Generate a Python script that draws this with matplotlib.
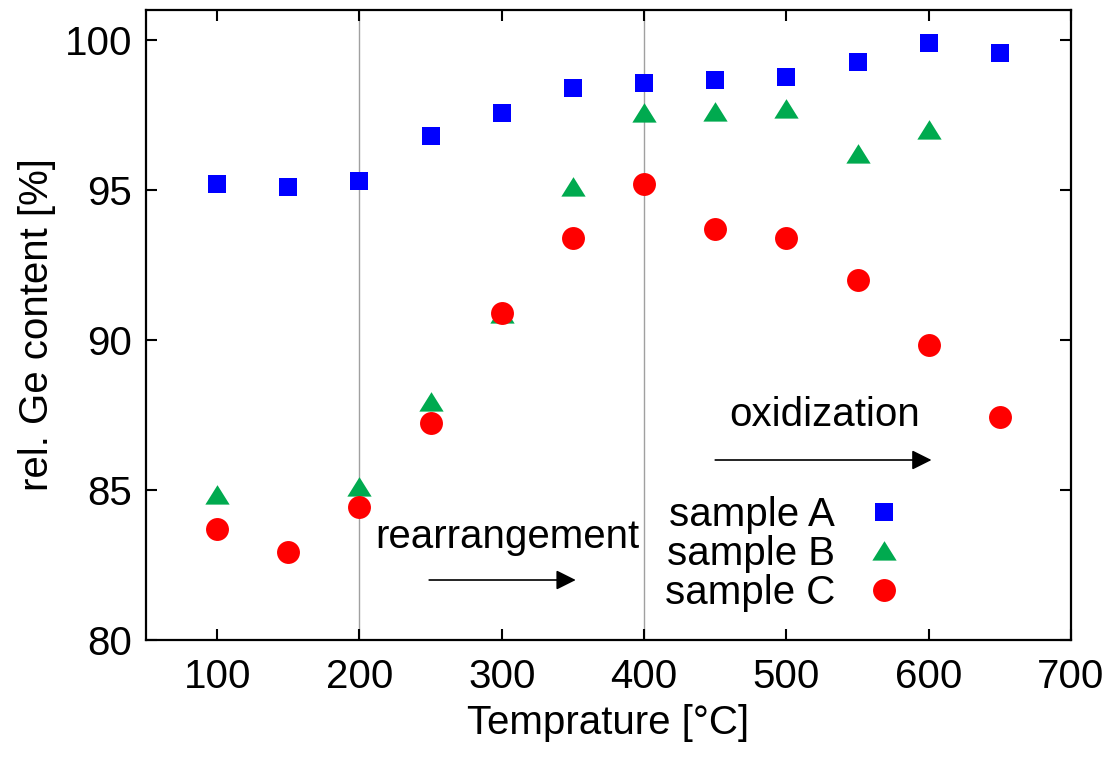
import matplotlib
matplotlib.use("Agg")
import matplotlib.pyplot as plt

plt.rcParams['font.family'] = ['Liberation Sans', 'DejaVu Sans']

temps_a = [100, 150, 200, 250, 300, 350, 400, 450, 500, 550, 600, 650]
sample_a = [95.2, 95.1, 95.3, 96.8, 97.55, 98.4, 98.55, 98.65, 98.75, 99.25, 99.9, 99.55]

temps_b = [100, 200, 250, 300, 350, 400, 450, 500, 550, 600]
sample_b = [84.85, 85.1, 87.95, 90.85, 95.1, 97.55, 97.6, 97.7, 96.2, 97.0]

temps_c = [100, 150, 200, 250, 300, 350, 400, 450, 500, 550, 600, 650]
sample_c = [83.7, 82.95, 84.45, 87.25, 90.9, 93.4, 95.2, 93.7, 93.4, 92.0, 89.85, 87.45]

labels = ["sample A", "sample B", "sample C"]
vlines_x = [200, 400]

fig = plt.figure(figsize=(11.11, 7.63), dpi=100)
ax = fig.add_axes([0.1314, 0.1612, 0.9640 - 0.1314, 0.9869 - 0.1612])

for xv in vlines_x:
    ax.axvline(xv, color='#a0a0a0', lw=1.0, zorder=1)

tri = [(-1, -0.75), (1, -0.75), (0, 0.85)]
ax.plot(temps_a, sample_a, ls='none', marker='s', ms=12.5, mew=0, color='#0000ff', label=labels[0], zorder=3)
ax.plot(temps_b, sample_b, ls='none', marker=tri, ms=17.5, mew=0, color='#00aa4f', label=labels[1], zorder=3)
ax.plot(temps_c, sample_c, ls='none', marker='o', ms=16.5, mew=0, color='#ff0000', label=labels[2], zorder=4)

ax.set_xlim(50, 700)
ax.set_ylim(80, 101)
ax.set_xticks([100, 200, 300, 400, 500, 600, 700])
ax.set_yticks([80, 85, 90, 95, 100])

fs = 29
ax.tick_params(direction='in', length=8, width=1.5, top=True, right=True, labelsize=fs)
ax.tick_params(axis='x', pad=13)
ax.tick_params(axis='y', pad=10)
for s in ax.spines.values():
    s.set_linewidth(1.6)

ax.set_xlabel("Temprature [°C]", fontsize=fs, labelpad=6)
ax.set_ylabel("rel. Ge content [%]", fontsize=fs, labelpad=6)

ax.text(211, 83.45, "rearrangement", fontsize=fs, va='center', ha='left')
ax.annotate("", xy=(352, 82.0), xytext=(249, 82.0),
            arrowprops=dict(arrowstyle='-|>', color='black', lw=1.2, mutation_scale=30,
                            shrinkA=0, shrinkB=0))
ax.text(460, 87.5, "oxidization", fontsize=fs, va='center', ha='left')
ax.annotate("", xy=(602, 86.0), xytext=(450, 86.0),
            arrowprops=dict(arrowstyle='-|>', color='black', lw=1.2, mutation_scale=30,
                            shrinkA=0, shrinkB=0))

leg = ax.legend(loc='lower right', bbox_to_anchor=(0.854, 0.0), frameon=False, fontsize=fs,
                markerfirst=False, handlelength=1.2, handletextpad=0.6, labelspacing=0.02,
                borderaxespad=0.3)

fig.savefig("out.png", dpi=100)
